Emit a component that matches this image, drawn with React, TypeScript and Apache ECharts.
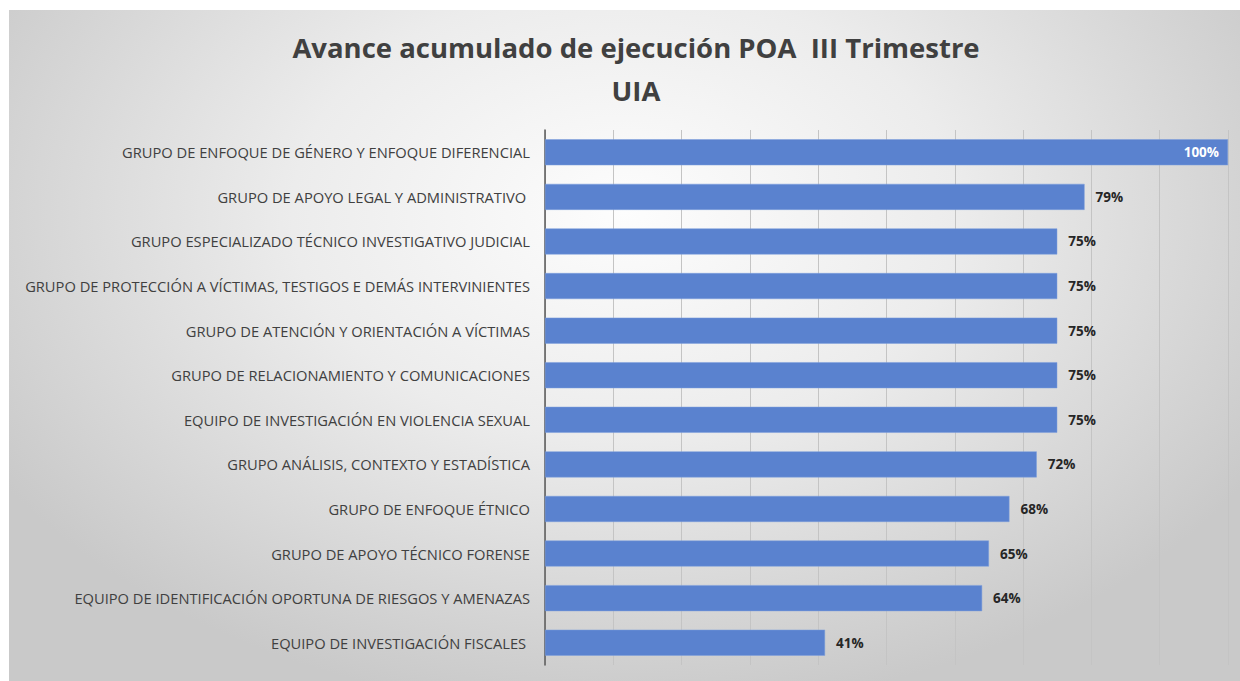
import React, { useEffect, useRef } from "react";
import * as echarts from "echarts";

const categories = [
  "GRUPO DE ENFOQUE DE GÉNERO Y ENFOQUE DIFERENCIAL",
  "GRUPO DE APOYO LEGAL Y ADMINISTRATIVO ",
  "GRUPO ESPECIALIZADO TÉCNICO INVESTIGATIVO JUDICIAL",
  "GRUPO DE PROTECCIÓN A VÍCTIMAS, TESTIGOS E DEMÁS INTERVINIENTES",
  "GRUPO DE ATENCIÓN Y ORIENTACIÓN A VÍCTIMAS",
  "GRUPO DE RELACIONAMIENTO Y COMUNICACIONES",
  "EQUIPO DE INVESTIGACIÓN EN VIOLENCIA SEXUAL",
  "GRUPO ANÁLISIS, CONTEXTO Y ESTADÍSTICA",
  "GRUPO DE ENFOQUE ÉTNICO",
  "GRUPO DE APOYO TÉCNICO FORENSE",
  "EQUIPO DE IDENTIFICACIÓN OPORTUNA DE RIESGOS Y AMENAZAS",
  "EQUIPO DE INVESTIGACIÓN FISCALES ",
];

const values = [100, 79, 75, 75, 75, 75, 75, 72, 68, 65, 64, 41];

const titleLines = ["Avance acumulado de ejecución POA  III Trimestre", "UIA"];

export default function App() {
  const ref = useRef<HTMLDivElement>(null);
  useEffect(() => {
    if (!ref.current) return;
    const chart = echarts.init(ref.current, undefined, { renderer: "svg" });
    const font = "'Open Sans', 'Noto Sans', sans-serif";
    chart.setOption({
      animation: false,
      graphic: titleLines.map((t, i) => ({
        type: "text",
        x: 627,
        y: 37 + i * 43,
        style: {
          text: t,
          align: "center",
          verticalAlign: "middle",
          fontFamily: font,
          fontSize: 27.5,
          fontWeight: "bold",
          fill: "#404040",
        },
      })),
      grid: { left: 536, right: 12, top: 120, height: 535, containLabel: false },
      xAxis: {
        type: "value",
        min: 0,
        max: 100,
        interval: 10,
        axisLabel: { show: false },
        axisLine: { show: false },
        axisTick: { show: false },
        splitLine: { show: true, lineStyle: { color: "#c4c4c4", width: 1 } },
      },
      yAxis: {
        type: "category",
        inverse: true,
        data: categories,
        axisLine: { show: true, lineStyle: { color: "#595959", width: 1.5 } },
        axisTick: { show: false },
        axisLabel: {
          margin: 15,
          fontFamily: font,
          fontSize: 14.7,
          color: "#404040",
        },
      },
      series: [
        {
          type: "bar",
          data: values.map((v, i) => ({
            value: v,
            label:
              i === 0
                ? { position: "insideRight", color: "#ffffff", distance: 9 }
                : undefined,
          })),
          barWidth: 26,
          itemStyle: { color: "#5a82cf", borderColor: "#7d9fdc", borderWidth: 0.5 },
          label: {
            show: true,
            position: "right",
            distance: 11,
            formatter: "{c}%",
            fontFamily: font,
            fontSize: 13.5,
            fontWeight: "bold",
            color: "#262626",
          },
        },
      ],
    });
    return () => chart.dispose();
  }, []);
  return (
    <div
      ref={ref}
      style={{
        position: "absolute",
        left: 9,
        top: 10,
        width: 1231,
        height: 671,
        background:
          "radial-gradient(ellipse 60% 75% at 50% 30%, #fdfdfd 0%, #ececec 45%, #c9c9c9 100%)",
      }}
    />
  );
}
